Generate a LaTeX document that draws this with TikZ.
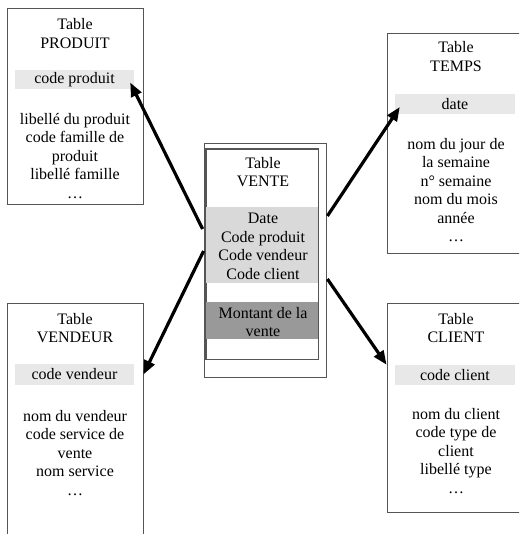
\documentclass[tikz,border=0pt]{standalone}
\usepackage{fontspec}
\setmainfont{Liberation Serif}
\usetikzlibrary{arrows.meta,calc}
\definecolor{keygrey}{HTML}{E8E8E8}
\definecolor{fklight}{HTML}{D9D9D9}
\definecolor{measdark}{HTML}{999999}
\definecolor{frame}{HTML}{555555}
\tikzset{
  tablebox/.style={draw=frame, line width=0.8pt, inner sep=0pt, anchor=center},
  band/.style={inner sep=0pt, anchor=center, font=\fontsize{16}{18.5}\selectfont},
  txt/.style={inner sep=0pt, align=center, anchor=center, font=\fontsize{16}{18.5}\selectfont},
  link/.style={line width=3.2pt, -{Triangle[length=14pt,width=11pt]}},
}
\begin{document}
\begin{tikzpicture}[x=1pt,y=-1pt]
\useasboundingbox (0,0) rectangle (519,534);
\clip (0,0) rectangle (519,534);

% ---- table PRODUIT ----
\node[tablebox, minimum width=136pt, minimum height=196pt] (produit) at (75,106) {};
\node[txt] (produitT) at (75,33.5) {Table\\PRODUIT};
\node[band, fill=keygrey, minimum width=119pt, minimum height=19pt] (pkey) at (74.5,79.5) {code produit};
\node[txt] (produitA) at (75,156) {libellé du produit\\code famille de\\produit\\libellé famille\\\dots};

% ---- table VENDEUR ----
\node[tablebox, minimum width=136pt, minimum height=237pt] (vendeur) at (75,421.5) {};
\node[txt] (vendeurT) at (75,328) {Table\\VENDEUR};
\node[band, fill=keygrey, minimum width=119pt, minimum height=21pt] (vkey) at (74.5,374.5) {code vendeur};
\node[txt] (vendeurA) at (75,453) {nom du vendeur\\code service de\\vente\\nom service\\\dots};

% ---- table TEMPS ----
\node[tablebox, minimum width=138pt, minimum height=220pt] (temps) at (456,143) {};
\node[txt] (tempsT) at (456,56.5) {Table\\TEMPS};
\node[band, fill=keygrey, minimum width=120pt, minimum height=20pt] (tkey) at (455,104) {date};
\node[txt] (tempsA) at (456,190) {nom du jour de\\la semaine\\n° semaine\\nom du mois\\année\\\dots};

% ---- table CLIENT ----
\node[tablebox, minimum width=138pt, minimum height=209pt] (client) at (456,407.5) {};
\node[txt] (clientT) at (456,328) {Table\\CLIENT};
\node[band, fill=keygrey, minimum width=120pt, minimum height=20pt] (ckey) at (455,375) {code client};
\node[txt] (clientA) at (456,451) {nom du client\\code type de\\client\\libellé type\\\dots};

% ---- fact table VENTE ----
\node[tablebox, minimum width=122pt, minimum height=234pt] (vente) at (265,260) {};
\node[tablebox, minimum width=112pt, minimum height=210pt] (venteIn) at (262,254) {};
\node[band, fill=fklight, minimum width=112pt, minimum height=76pt] (vkeys) at (262,245) {};
\node[band, fill=measdark, minimum width=112pt, minimum height=37pt] (vmeas) at (262,320.5) {};
\draw[frame, line width=0.8pt] (venteIn.north west) rectangle (venteIn.south east);
\node[txt] (venteT) at (263,172) {Table\\VENTE};
\node[txt] (venteK) at (263,246.5) {Date\\Code produit\\Code vendeur\\Code client};
\node[txt] (venteM) at (263,322) {Montant de la\\vente};

% ---- links from VENTE to the dimension tables ----
\draw[link] ($(vente.west)+(-1,-31)$) -- ($(pkey.east)+(-4,3)$);
\draw[link] ($(vente.west)+(0,-9)$) -- (vkey.east -| vendeur.east);
\draw[link] ($(vente.east)+(1,-44)$) -- ($(tkey.west)+(5,3)$);
\draw[link] ($(vente.east)+(1,19)$) -- (ckey.north -| client.west);
\end{tikzpicture}
\end{document}
